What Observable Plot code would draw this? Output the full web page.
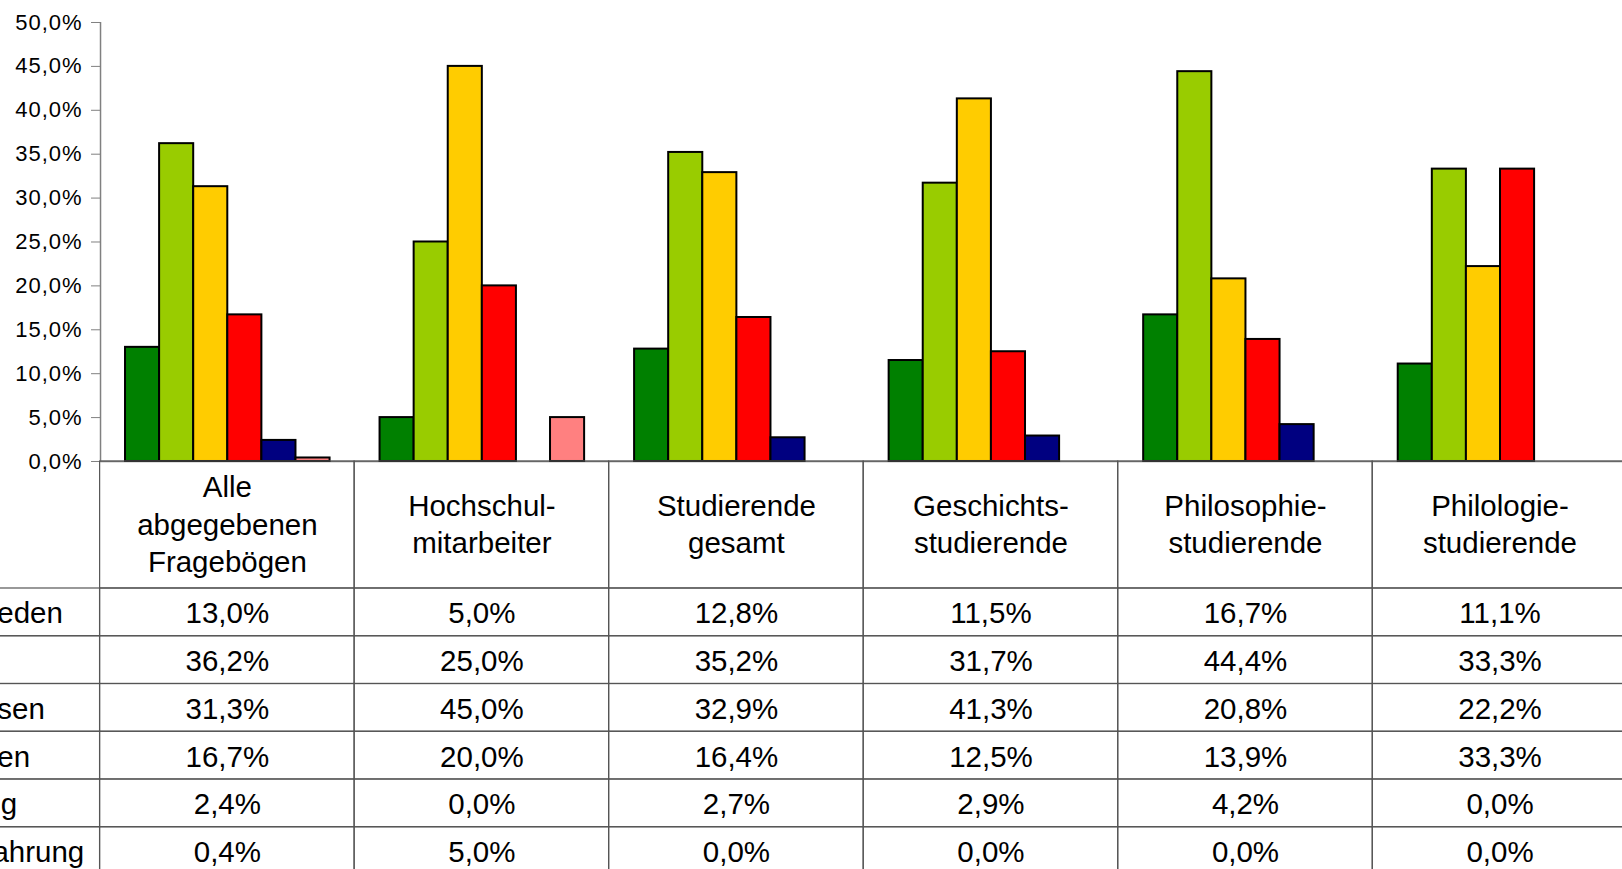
<!DOCTYPE html>
<html>
<head>
<meta charset="utf-8">
<script src="https://cdn.jsdelivr.net/npm/d3@7"></script>
<script src="https://cdn.jsdelivr.net/npm/@observablehq/plot@0.6"></script>
<style>
  html, body { margin: 0; padding: 0; overflow: hidden; background: #fff; }
  #wrap { position: relative; width: 1622px; height: 869px; overflow: hidden; background: #fff; }
  #wrap svg { position: absolute; max-width: none !important; background: transparent !important; overflow: visible; }
</style>
</head>
<body>
<div id="wrap"></div>
<script>
// ---------- data ----------
const groups = [
  "Alle\nabgegebenen\nFragebögen",
  "Hochschul-\nmitarbeiter",
  "Studierende\ngesamt",
  "Geschichts-\nstudierende",
  "Philosophie-\nstudierende",
  "Philologie-\nstudierende"
];
const series = ["sehr zufrieden", "zufrieden", "angemessen", "unzufrieden", "Enthaltung", "keine Erfahrung"];
const sehrZufrieden  = [13.0,  5.0, 12.8, 11.5, 16.7, 11.1];
const zufrieden      = [36.2, 25.0, 35.2, 31.7, 44.4, 33.3];
const angemessen     = [31.3, 45.0, 32.9, 41.3, 20.8, 22.2];
const unzufrieden    = [16.7, 20.0, 16.4, 12.5, 13.9, 33.3];
const enthaltung     = [ 2.4,  0.0,  2.7,  2.9,  4.2,  0.0];
const keineErfahrung = [ 0.4,  5.0,  0.0,  0.0,  0.0,  0.0];
const colors = ["#008000", "#99CC00", "#FFCC00", "#FF0000", "#000080", "#FF8080"];
const yTicks = [0, 0.05, 0.10, 0.15, 0.20, 0.25, 0.30, 0.35, 0.40, 0.45, 0.50];

const valueRows = [sehrZufrieden, zufrieden, angemessen, unzufrieden, enthaltung, keineErfahrung];
const data = series.flatMap((s, i) => groups.map((g, j) => ({series: s, group: g, value: valueRows[i][j] / 100})));

// ---------- layout ----------
const FONT = '"Liberation Sans", Arial, Helvetica, sans-serif';
const colW = 254.55;
const leftM = 100;
const pOuter = 0.733;
const step = colW / (series.length + 2 * pOuter);
const fmtPct = d => (d * 100).toFixed(1).replace(".", ",") + "%";
const gridColor = "#555";
const axisColor = "#808080";

const wrap = document.getElementById("wrap");

// Chart
const chart = Plot.plot({
  width: leftM + groups.length * colW,
  height: 475,
  marginLeft: leftM, marginRight: 0, marginTop: 22, marginBottom: 14,
  style: `font-family: ${FONT}; font-size: 22px; letter-spacing: 1px; color: black; background: transparent; max-width: none; overflow: visible;`,
  fx: {domain: groups, padding: 0, axis: null, round: false},
  x: {domain: series, paddingInner: 0, paddingOuter: pOuter, axis: null, round: false},
  y: {domain: [0, 0.5], axis: null},
  color: {domain: series, range: colors},
  marks: [
    Plot.ruleY([0], {stroke: axisColor, strokeWidth: 1.5}),
    Plot.ruleX([series[0]], {fx: () => groups[0], x: d => d, y1: 0, y2: 0.5,
      dx: -(pOuter * step + step / 2), stroke: axisColor, strokeWidth: 1.5}),
    Plot.axisY(yTicks, {anchor: "left", tickSize: 9, tickPadding: 9, tickFormat: fmtPct,
      stroke: axisColor, fill: "black", fontSize: 22, label: null}),
    Plot.barY(data.filter(d => d.value > 0), {fx: "group", x: "series", y: "value",
      fill: "series", stroke: "black", strokeWidth: 2})
  ]
});
chart.style.left = "0px";
chart.style.top = "0px";
wrap.appendChild(chart);

// Table header
const cols = ["", ...groups];
const tableW = cols.length * colW;
const header = Plot.plot({
  width: tableW, height: 129,
  marginTop: 1, marginBottom: 1, marginLeft: 0, marginRight: 0,
  style: `font-family: ${FONT}; font-size: 29.5px; color: black; background: transparent; max-width: none;`,
  x: {domain: cols, padding: 0, axis: null, round: false},
  y: {domain: ["header"], padding: 0, axis: null},
  marks: [
    Plot.cell(groups, {x: d => d, y: () => "header", fill: "none", stroke: gridColor, strokeWidth: 1.2, inset: 0}),
    Plot.text(groups, {x: d => d, y: () => "header", text: d => d, fontSize: 29.5, lineHeight: 1.28, dy: -2.5, fill: "black"})
  ]
});
header.style.left = (leftM - colW) + "px";
header.style.top = "460px";
wrap.appendChild(header);

// Table rows
const cellData = series.flatMap(s => cols.map(c => ({series: s, col: c})));
const rows = Plot.plot({
  width: tableW, height: series.length * 47.75 + 2,
  marginTop: 1, marginBottom: 1, marginLeft: 0, marginRight: 0,
  style: `font-family: ${FONT}; font-size: 29.5px; color: black; background: transparent; max-width: none;`,
  x: {domain: cols, padding: 0, axis: null, round: false},
  y: {domain: series, padding: 0, axis: null, round: false},
  marks: [
    Plot.cell(cellData, {x: "col", y: "series", fill: "none", stroke: gridColor, strokeWidth: 1.2, inset: 0}),
    Plot.text(data, {x: "group", y: "series", text: d => fmtPct(d.value), fontSize: 29.5, dy: 1.5, fill: "black"}),
    Plot.text(series, {x: () => "", y: d => d, text: d => d, textAnchor: "start",
      dx: 30.5 - colW / 2, dy: 1.5, fontSize: 29.5, fill: "black"})
  ]
});
rows.style.left = (leftM - colW) + "px";
rows.style.top = "587px";
wrap.appendChild(rows);
</script>
</body>
</html>
